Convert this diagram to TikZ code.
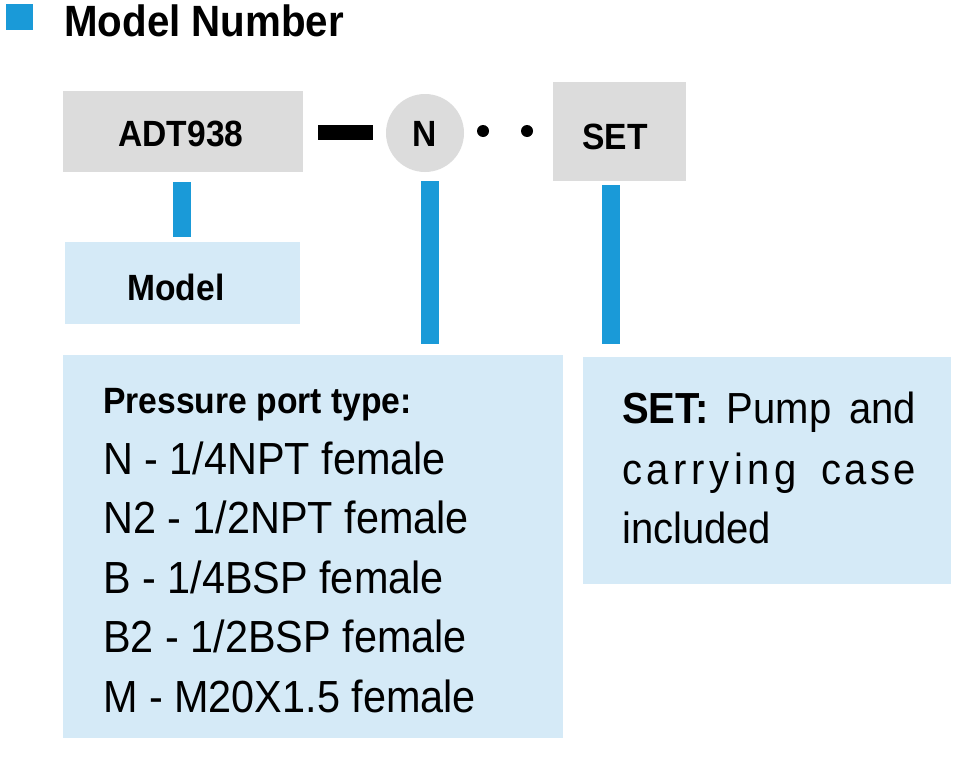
\documentclass[tikz,border=0pt]{standalone}
\usepackage{fontspec}
\setmainfont[FakeStretch=0.92]{Liberation Sans}
\definecolor{bblue}{HTML}{1A9AD8}
\definecolor{lblue}{HTML}{D5EAF7}
\definecolor{lgray}{HTML}{DCDCDC}
\newcommand\myfs[1]{\fontsize{#1}{#1}\selectfont}
\newcommand\ka{\kern4.6pt}
\newcommand\kb{\kern3.4pt}
\begin{document}
\begin{tikzpicture}[x=1pt,y=-1pt,
  graybox/.style={fill=lgray, inner sep=0pt, font=\myfs{36.5}\bfseries},
  bluebox/.style={fill=lblue, inner sep=0pt},
  bar/.style={draw=bblue, line width=18pt},
  txt/.style={anchor=base west, inner sep=0pt, font=\myfs{45}},
  dotnode/.style={circle, fill=black, inner sep=0pt, minimum size=12pt}]
\useasboundingbox (0,0) rectangle (960,768);
% title
\node[fill=bblue, inner sep=0pt, minimum width=27pt, minimum height=26pt] (sq) at (19.5,17) {};
\node[anchor=base west, inner sep=0pt, font=\myfs{43.8}\bfseries] (title) at (64,37) {Model Number};
% code row
\node[graybox, minimum width=240pt, minimum height=81pt] (adt) at (183,131.5) {};
\node[anchor=base, inner sep=0pt, font=\myfs{36.5}\bfseries] (adtt) at (181,146) {ADT938};
\node[fill=black, inner sep=0pt, minimum width=55pt, minimum height=15pt] (dash) at (345.5,132.5) {};
\node[graybox, circle, minimum size=78pt] (nc) at (425,133) {};
\node[anchor=base, inner sep=0pt, font=\myfs{36.5}\bfseries] (nt) at (425,146) {N};
\node[dotnode] (d1) at (483,131) {};
\node[dotnode] (d2) at (527,131) {};
\node[graybox, minimum width=133pt, minimum height=99pt] (set) at (619.5,131.5) {};
\node[anchor=base, inner sep=0pt, font=\myfs{36.5}\bfseries] (sett) at (615,149) {SET};
% boxes
\node[bluebox, minimum width=235pt, minimum height=82pt] (model) at (182.5,283) {};
\node[anchor=base, inner sep=0pt, font=\myfs{36.5}\bfseries] (modelt) at (176,300) {Model};
\node[bluebox, minimum width=500pt, minimum height=383pt] (pp) at (313,546.5) {};
\node[bluebox, minimum width=368pt, minimum height=227pt] (sb) at (767,470.5) {};
% connectors
\coordinate (ab) at ([xshift=-1pt]adt.south);
\coordinate (nb) at ([xshift=4.5pt]nc.south);
\coordinate (sbb) at ([xshift=-9pt]set.south);
\draw[bar, shorten <=10pt, shorten >=5pt] (ab) -- (ab |- model.north);
\draw[bar, shorten <=9pt, shorten >=11pt] (nb) -- (nb |- pp.north);
\draw[bar, shorten <=4pt, shorten >=13pt] (sbb) -- (sbb |- sb.north);
% pressure text
\node[anchor=base west, inner sep=0pt, font=\myfs{36.6}\bfseries] (ph) at (103,413) {Pressure port type:};
\node[txt] (l1) at (103,474) {N - 1/4NPT female};
\node[txt] (l2) at (103,533.5) {N2 - 1/2NPT female};
\node[txt] (l3) at (103,593) {B - 1/4BSP female};
\node[txt] (l4) at (103,652.5) {B2 - 1/2BSP female};
\node[txt] (l5) at (103,712) {M - M20X1.5 female};
% set text
\node[txt, font=\myfs{43.5}] (s1) at (622,423) {\makebox[294pt][s]{\textbf{SET:} Pump and}};
\node[txt, font=\myfs{43.5}] (s2) at (622,484) {\makebox[294pt][s]{c\ka a\ka r\ka r\ka y\ka i\ka n\ka g c\kb a\kb s\kb e}};
\node[txt, font=\myfs{43.5}] (s3) at (622,543) {included};
\end{tikzpicture}
\end{document}
